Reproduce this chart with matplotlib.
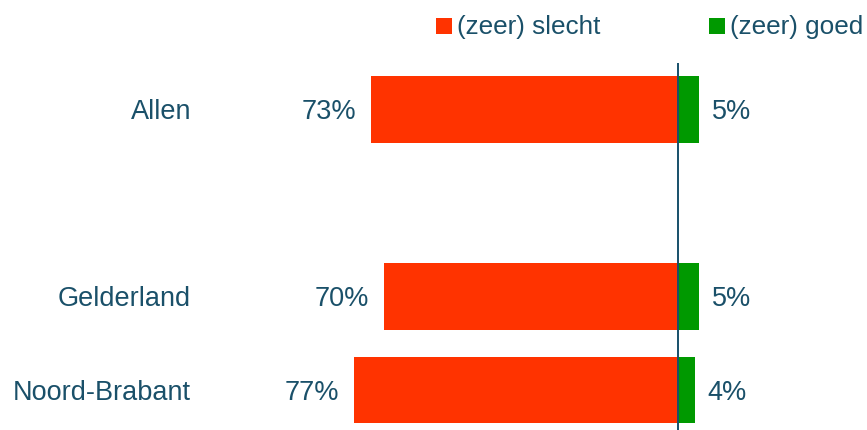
import matplotlib
matplotlib.use("Agg")
import matplotlib.pyplot as plt
from matplotlib.patches import Rectangle

# === Datos ===
categories = ["Allen", "Gelderland", "Noord-Brabant"]
slots = [0, 2, 3]  # hueco vacío entre Allen y Gelderland
slecht = [73, 70, 77]
goed = [5, 5, 4]
legend_labels = ["(zeer) slecht", "(zeer) goed"]

RED = "#FF3300"
GREEN = "#009900"
TXT = "#1A5069"

plt.rcParams["font.family"] = ["Liberation Sans", "DejaVu Sans"]
FS = 19.5

fig = plt.figure(figsize=(8.67, 4.30), dpi=100)
ax = fig.add_axes([0, 0, 1, 1])

px = 4.205  # pixeles por %
ax.set_xlim(-678 / px, (867 - 678) / px)
ax.set_ylim((430 - 109.5) / 93.5, -109.5 / 93.5)
ax.axis("off")

h = 0.71
ax.barh(slots, [-v for v in slecht], height=h, color=RED, linewidth=0)
ax.barh(slots, goed, height=h, color=GREEN, linewidth=0)
ax.vlines(0, -0.5, (430 - 109.5) / 93.5, color="#17506A", lw=1.4)

dy = -2.5  # bajar un poco el texto
for y, cat, s, g in zip(slots, categories, slecht, goed):
    ax.annotate(cat, ((191 - 678) / px, y), xytext=(0, dy), textcoords="offset pixels",
                ha="right", va="center", fontsize=FS, color=TXT)
    ax.annotate(f"{s}%", (-s, y), xytext=(-15, dy), textcoords="offset pixels",
                ha="right", va="center", fontsize=FS, color=TXT)
    ax.annotate(f"{g}%", (g, y), xytext=(13, dy), textcoords="offset pixels",
                ha="left", va="center", fontsize=FS, color=TXT)

# leyenda manual arriba
W, H = 867.0, 430.0
for x0, col, lab in [(436, RED, legend_labels[0]), (709, GREEN, legend_labels[1])]:
    fig.patches.append(Rectangle((x0 / W, 1 - 34.3 / H), 16 / W, 16 / H,
                                 transform=fig.transFigure, color=col, lw=0))
    fig.text((x0 + 21) / W, 1 - 27 / H, lab, ha="left", va="center",
             fontsize=18.8, color=TXT)

fig.savefig("out.png", dpi=100)
